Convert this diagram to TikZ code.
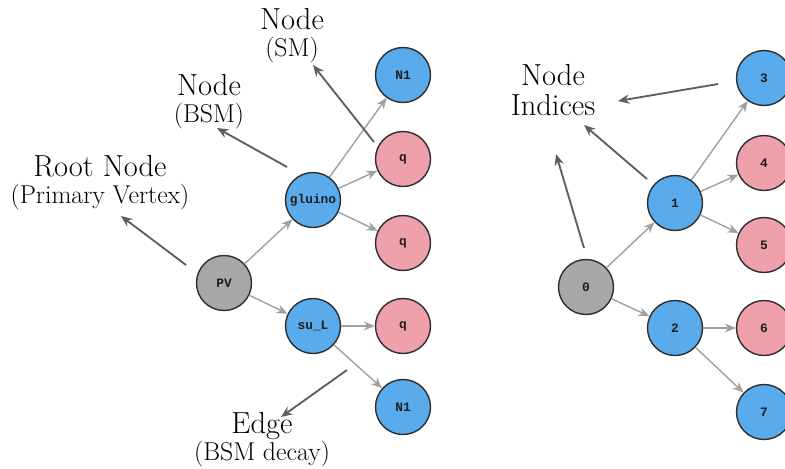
\documentclass[tikz,border=0pt]{standalone}
\usepackage{fontspec}
\usepackage{tikz}
\usetikzlibrary{arrows.meta}
\newfontfamily\lblfont{Liberation Mono}
\definecolor{skyblue}{HTML}{5AABEC}
\definecolor{rose}{HTML}{EFA1AB}
\definecolor{stone}{HTML}{A8A8A8}
\definecolor{rim}{HTML}{2E2E2E}
\definecolor{ink}{HTML}{1E1E1E}
\definecolor{edgegray}{HTML}{A0A0A0}
\definecolor{notegray}{HTML}{5F5F5F}
\tikzset{vtx/.style={circle,draw=rim,line width=1.2pt,minimum size=1.65cm,inner sep=0pt,font=\lblfont\bfseries\fontsize{11}{11}\selectfont,text=ink},
  bsm/.style={vtx,fill=skyblue},
  sm/.style={vtx,fill=rose},
  root/.style={vtx,fill=stone},
  link/.style={-{Stealth[length=3.3mm,width=2.7mm]},line width=1.2pt,draw=edgegray},
  arr/.style={-{Stealth[length=3.4mm,width=2.8mm]},line width=1.6pt,draw=notegray},
  note/.style={align=center,anchor=base,inner sep=0pt,font=\fontsize{26}{23}\selectfont}}

\begin{document}
\begin{tikzpicture}[x=0.03cm,y=-0.03cm]
\useasboundingbox (0,0) rectangle (785,468);
% left tree: particle names
\node[root] (pv) at (224,283) {PV};
\node[bsm] (gluino) at (313,200) {gluino};
\node[bsm] (sul) at (313,326) {su\_L};
\node[bsm] (nA) at (403,75) {N1};
\node[sm] (qA) at (403,159) {q};
\node[sm] (qB) at (403,243) {q};
\node[sm] (qC) at (403,326) {q};
\node[bsm] (nB) at (403,407) {N1};
\draw[link] (pv) -- (gluino);
\draw[link] (pv) -- (sul);
\draw[link] (gluino) -- (nA);
\draw[link] (gluino) -- (qA);
\draw[link] (gluino) -- (qB);
\draw[link] (sul) -- (qC);
\draw[link] (sul) -- (nB);
% right tree: node indices
\node[root] (i0) at (586,287) {0};
\node[bsm] (i1) at (675,203) {1};
\node[bsm] (i2) at (675,328) {2};
\node[bsm] (i3) at (764,78) {3};
\node[sm] (i4) at (764,163) {4};
\node[sm] (i5) at (764,245) {5};
\node[sm] (i6) at (764,328) {6};
\node[bsm] (i7) at (764,412) {7};
\draw[link] (i0) -- (i1);
\draw[link] (i0) -- (i2);
\draw[link] (i1) -- (i3);
\draw[link] (i1) -- (i4);
\draw[link] (i1) -- (i5);
\draw[link] (i2) -- (i6);
\draw[link] (i2) -- (i7);
% labels (base = last line)
\node[note] (rootlbl) at (100,203) {Root Node\\{\fontsize{22}{23}\selectfont (Primary Vertex)}};
\node[note] (bsmlbl) at (209,122) {Node\\{\fontsize{22}{23}\selectfont (BSM)}};
\node[note] (smlbl) at (292,56) {Node\\{\fontsize{22}{23}\selectfont (SM)}};
\node[note] (edgelbl) at (262,460) {Edge\\{\fontsize{22}{23}\selectfont (BSM decay)}};
\node[note,font=\fontsize{26}{25}\selectfont] (idxlbl) at (553,115) {Node\\Indices};
\coordinate (rootS) at (186,265); \coordinate (rootT) at (121,216);
\coordinate (bsmS) at (287,167); \coordinate (bsmT) at (217,128);
\coordinate (smS) at (374,142); \coordinate (smT) at (313,65);
\coordinate (edgeS) at (347,370); \coordinate (edgeT) at (281,417);
\coordinate (idxS3) at (718,84); \coordinate (idxT3) at (618,101);
\coordinate (idxS1) at (647,179); \coordinate (idxT1) at (584,125);
\coordinate (idxS0) at (584,248); \coordinate (idxT0) at (556,154);
\draw[arr] (rootS) -- (rootT);
\draw[arr] (bsmS) -- (bsmT);
\draw[arr] (smS) -- (smT);
\draw[arr] (edgeS) -- (edgeT);
\draw[arr] (idxS3) -- (idxT3);
\draw[arr] (idxS1) -- (idxT1);
\draw[arr] (idxS0) -- (idxT0);
\end{tikzpicture}
\end{document}
